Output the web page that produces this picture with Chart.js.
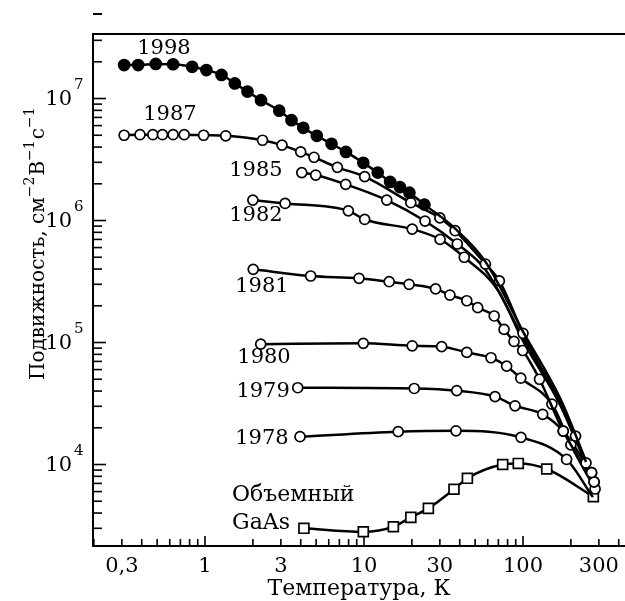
<!DOCTYPE html>
<html>
<head>
<meta charset="utf-8">
<script src="https://cdn.jsdelivr.net/npm/chart.js@4.4.1/dist/chart.umd.min.js"></script>
<style>
    html, body { margin: 0; padding: 0; background: #fff; }
    #wrap { width: 625px; height: 601px; }
</style>
</head>
<body>
<div id="wrap"><canvas id="mobility-chart"></canvas></div>
<script>
'use strict';

// temperatures (K) and mobilities, one pair of arrays per curve
const t1998 = [0.31, 0.38, 0.49, 0.63, 0.83, 1.02, 1.27, 1.54, 1.85, 2.25, 2.93, 3.5, 4.15, 5.05, 6.25, 7.7, 9.9, 12.2, 14.6, 16.8, 19.3, 24, 37, 58, 100, 171, 214, 249]
const mu1998 = [1.88e7, 1.88e7, 1.92e7, 1.91e7, 1.82e7, 1.71e7, 1.56e7, 1.33e7, 1.14e7, 9.7e6, 7.95e6, 6.65e6, 5.75e6, 4.95e6, 4.25e6, 3.65e6, 2.97e6, 2.47e6, 2.07e6, 1.88e6, 1.69e6, 1.35e6, 8.7e5, 4.6e5, 1.23e5, 3.5e4, 1.75e4, 1.05e4]
const curveOnly1998 = [22, 23, 24, 25, 26, 27]

const t1987 = [0.31, 0.39, 0.47, 0.54, 0.63, 0.74, 0.98, 1.35, 2.3, 3.05, 4, 4.85, 6.8, 10.1, 19.7, 30, 37.4, 58, 71, 100, 214, 249]
const mu1987 = [5.0e6, 5.05e6, 5.05e6, 5.05e6, 5.05e6, 5.05e6, 5.0e6, 4.95e6, 4.55e6, 4.15e6, 3.65e6, 3.3e6, 2.73e6, 2.29e6, 1.4e6, 1.05e6, 8.25e5, 4.4e5, 3.2e5, 1.19e5, 1.71e4, 1.03e4]
const curveOnly1987 = []

const t1985 = [4.06, 4.97, 7.67, 13.9, 24.2, 38.6, 58, 100, 171, 214, 270]
const mu1985 = [2.47e6, 2.36e6, 1.98e6, 1.47e6, 9.9e5, 6.42e5, 3.95e5, 1.1e5, 3.25e4, 1.65e4, 8.57e3]
const curveOnly1985 = [6, 7, 8, 9]

const t1982 = [2.0, 3.19, 7.97, 10.1, 20.1, 30.1, 42.7, 70, 100, 171, 214, 280]
const mu1982 = [1.47e6, 1.38e6, 1.2e6, 1.02e6, 8.5e5, 7.0e5, 5.0e5, 2.65e5, 1.03e5, 3.1e4, 1.6e4, 7.2e3]
const curveOnly1982 = [7, 8, 9, 10]

const t1981 = [2.01, 4.62, 9.3, 14.4, 19.2, 28.2, 34.7, 44.3, 51.9, 65.9, 76, 87.8, 99.6, 127, 179, 280]
const mu1981 = [3.98e5, 3.51e5, 3.36e5, 3.15e5, 3.0e5, 2.75e5, 2.45e5, 2.2e5, 1.93e5, 1.65e5, 1.28e5, 1.02e5, 8.6e4, 5.0e4, 1.88e4, 7.2e3]
const curveOnly1981 = []

const t1980 = [2.24, 9.9, 20.1, 30.8, 44.3, 62.9, 78.9, 96.8, 152, 200, 284]
const mu1980 = [9.7e4, 9.85e4, 9.4e4, 9.25e4, 8.3e4, 7.5e4, 6.4e4, 5.1e4, 3.13e4, 1.45e4, 6.3e3]
const curveOnly1980 = []

const t1979 = [3.83, 20.7, 38.3, 66.7, 89.1, 133, 179, 270]
const mu1979 = [4.26e4, 4.2e4, 4.03e4, 3.6e4, 3.03e4, 2.58e4, 1.88e4, 8.57e3]
const curveOnly1979 = []

const t1978 = [3.96, 16.4, 37.9, 97.1, 188, 275]
const mu1978 = [1.69e4, 1.86e4, 1.89e4, 1.67e4, 1.1e4, 5.4e3]
const curveOnly1978 = [5]

const tBulk = [4.19, 9.9, 15.3, 19.7, 25.4, 36.8, 44.7, 74.5, 93.4, 141, 277]
const muBulk = [3.0e3, 2.81e3, 3.09e3, 3.69e3, 4.37e3, 6.27e3, 7.71e3, 1.0e4, 1.02e4, 9.19e3, 5.45e3]

// axis ticks
const xTickValues = [0.3, 1, 3, 10, 30, 100, 300]
const xTickLabels = ['0,3', '1', '3', '10', '30', '100', '300']
const yDecades = [4, 5, 6, 7]

// curve captions: text and where they sit (in data units)
const captionText = ['1998', '1987', '1985', '1982', '1981', '1980', '1979', '1978']
const captionT = [0.552, 0.602, 2.09, 2.09, 2.28, 2.35, 2.32, 2.28]
const captionMu = [2.59e7, 7.46e6, 2.55e6, 1.09e6, 2.9e5, 7.46e4, 4.0e4, 1.62e4]
const bulkCaption = ['Объемный', 'GaAs']
const bulkCaptionT = [1.48, 1.48]
const bulkCaptionMu = [5.62e3, 3.31e3]

const serif = '"DejaVu Serif", "Liberation Serif", serif'

const toPoints = (temps, values) => temps.map((t, i) => ({ x: t, y: values[i] }))

function makeSeries(label, temps, values, curveOnly, style) {
    return {
        label: label,
        data: toPoints(temps, values),
        borderColor: '#000',
        borderWidth: 2.5,
        cubicInterpolationMode: 'monotone',
        pointStyle: style.shape || 'circle',
        pointBackgroundColor: style.fill || '#fff',
        pointBorderColor: '#000',
        pointBorderWidth: 1.7,
        pointRadius: ctx => curveOnly.includes(ctx.dataIndex) ? 0 : (style.radius || 5),
    }
}

// frame, inward ticks, y labels, captions

const decorations = {
    id: 'decorations',
    afterDraw(chart) {
        const { ctx, chartArea, scales } = chart
        const xs = scales.x
        const ys = scales.y
        const left = chartArea.left
        const bottom = chartArea.bottom

        ctx.save()
        ctx.strokeStyle = '#000'
        ctx.fillStyle = '#000'
        ctx.lineWidth = 2

        ctx.beginPath()
        ctx.moveTo(chartArea.right + 2, chartArea.top)
        ctx.lineTo(left, chartArea.top)
        ctx.lineTo(left, bottom)
        ctx.lineTo(chartArea.right + 2, bottom)
        ctx.stroke()

        // x ticks
        ctx.lineWidth = 1.6
        for (let d = -1; d <= 2; d++) {
            for (let m = 1; m <= 9; m++) {
                const v = m * Math.pow(10, d)
                if (v < xs.min || v > xs.max) continue
                const px = xs.getPixelForValue(v)
                const len = m === 1 ? 10 : 7
                ctx.beginPath()
                ctx.moveTo(px, bottom)
                ctx.lineTo(px, bottom - len)
                ctx.stroke()
            }
        }

        // y ticks
        for (let d = 3; d <= 7; d++) {
            for (let m = 1; m <= 9; m++) {
                const v = m * Math.pow(10, d)
                if (v < ys.min || v > ys.max) continue
                const py = ys.getPixelForValue(v)
                const len = m === 1 ? 13 : 9
                ctx.beginPath()
                ctx.moveTo(left, py)
                ctx.lineTo(left + len, py)
                ctx.stroke()
            }
        }

        // y labels 10^n
        yDecades.forEach(n => {
            const py = ys.getPixelForValue(Math.pow(10, n))
            ctx.font = '21px ' + serif
            ctx.textAlign = 'right'
            ctx.textBaseline = 'alphabetic'
            ctx.fillText('10', 72, py + 6)
            ctx.font = '15px ' + serif
            ctx.textAlign = 'left'
            ctx.fillText(String(n), 74, py - 10)
        })

        // curve captions
        ctx.font = '21px ' + serif
        ctx.textAlign = 'center'
        ctx.textBaseline = 'middle'
        captionText.forEach((text, i) => {
            ctx.fillText(text, xs.getPixelForValue(captionT[i]), ys.getPixelForValue(captionMu[i]))
        })
        ctx.font = '22px ' + serif
        ctx.textAlign = 'left'
        bulkCaption.forEach((text, i) => {
            ctx.fillText(text, xs.getPixelForValue(bulkCaptionT[i]), ys.getPixelForValue(bulkCaptionMu[i]))
        })

        // rotated y title with superscripts
        const parts = [
            ['Подвижность, см', false],
            ['\u22122', true],
            ['В', false],
            ['\u22121', true],
            ['с', false],
            ['\u22121', true],
        ]
        ctx.translate(44, 380)
        ctx.rotate(-Math.PI / 2)
        ctx.textAlign = 'left'
        ctx.textBaseline = 'alphabetic'
        let pos = 0
        parts.forEach(([text, sup]) => {
            ctx.font = (sup ? '14px ' : '20px ') + serif
            ctx.fillText(text, pos, sup ? -10 : 0)
            pos += ctx.measureText(text).width + (sup ? 1 : 0)
        })
        ctx.restore()

        // the stray dash at the top left
        ctx.save()
        ctx.fillStyle = '#000'
        ctx.fillRect(93, 13, 9, 2)
        ctx.restore()
    }
}

const chartCanvas = document.getElementById('mobility-chart')

new Chart(chartCanvas, {
    type: 'line',
    data: {
        datasets: [
            makeSeries('1998', t1998, mu1998, curveOnly1998, { fill: '#000', radius: 5.5 }),
            makeSeries('1987', t1987, mu1987, curveOnly1987, {}),
            makeSeries('1985', t1985, mu1985, curveOnly1985, {}),
            makeSeries('1982', t1982, mu1982, curveOnly1982, {}),
            makeSeries('1981', t1981, mu1981, curveOnly1981, {}),
            makeSeries('1980', t1980, mu1980, curveOnly1980, {}),
            makeSeries('1979', t1979, mu1979, curveOnly1979, {}),
            makeSeries('1978', t1978, mu1978, curveOnly1978, {}),
            makeSeries('GaAs', tBulk, muBulk, [], { shape: 'rect', radius: 7 }),
        ]
    },
    options: {
        responsive: true,
        maintainAspectRatio: false,
        animation: false,
        layout: { autoPadding: false, padding: { top: 34, right: 0, left: 0, bottom: 0 } },
        plugins: {
            legend: { display: false },
            tooltip: { enabled: false },
        },
        scales: {
            x: {
                type: 'logarithmic',
                min: 0.1975,
                max: 438,
                afterBuildTicks: scale => {
                    scale.ticks = xTickValues.map(v => ({ value: v }))
                },
                afterFit: scale => {
                    scale.height = 55
                    scale.paddingLeft = 0
                    scale.paddingRight = 0
                },
                ticks: {
                    callback: (value, index) => xTickLabels[index],
                    font: { family: serif, size: 21 },
                    color: '#000',
                    padding: 8,
                    maxRotation: 0,
                    autoSkip: false,
                },
                grid: { display: false, drawTicks: false },
                border: { display: false },
                title: {
                    display: true,
                    text: 'Температура, К',
                    font: { family: serif, size: 22 },
                    color: '#000',
                    padding: { top: 0, bottom: -1 },
                },
            },
            y: {
                type: 'logarithmic',
                min: 2148,
                max: 3.38e7,
                afterFit: scale => {
                    scale.width = 93
                    scale.paddingTop = 0
                    scale.paddingBottom = 0
                },
                ticks: { display: false },
                grid: { display: false, drawTicks: false },
                border: { display: false },
            },
        },
    },
    plugins: [decorations],
})
</script>
</body>
</html>
